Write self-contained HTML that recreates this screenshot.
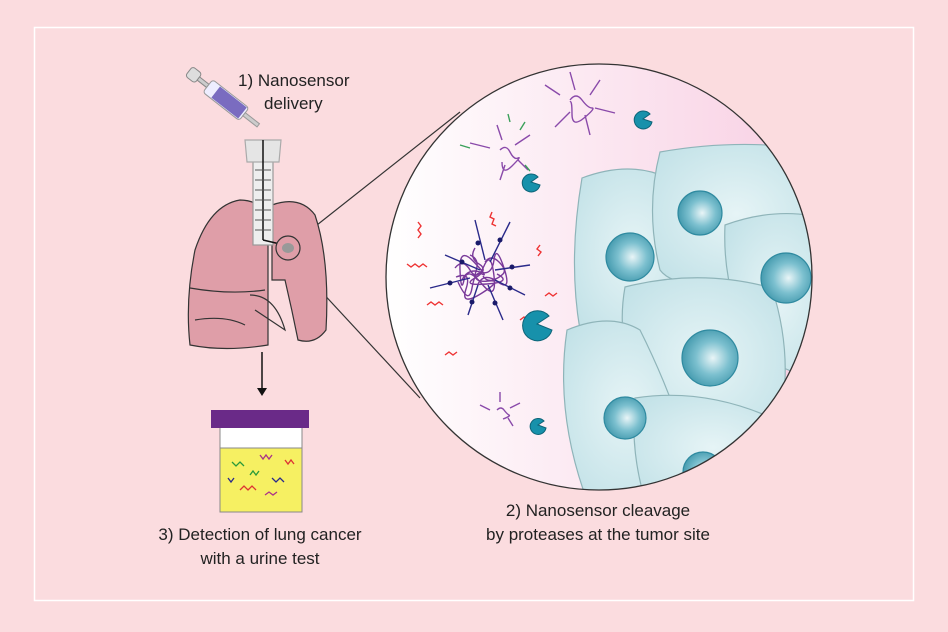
<!DOCTYPE html>
<html><head><meta charset="utf-8"><style>
html,body{margin:0;padding:0;background:#fbdcdf;}
svg{display:block}
text{font-family:"Liberation Sans",sans-serif;font-size:17px;fill:#222}
</style></head><body>
<svg width="948" height="632" viewBox="0 0 948 632" xmlns="http://www.w3.org/2000/svg">
<defs>
<linearGradient id="bg" x1="0" x2="1"><stop offset="0" stop-color="#ffffff"/><stop offset="1" stop-color="#f8cfe3"/></linearGradient>
<radialGradient id="nuc" cx="0.55" cy="0.5" r="0.6"><stop offset="0" stop-color="#e9f5f7"/><stop offset="0.5" stop-color="#7cc0cf"/><stop offset="1" stop-color="#3a93a8"/></radialGradient>
<radialGradient id="cell" cx="0.5" cy="0.5" r="0.7"><stop offset="0" stop-color="#e6f4f6"/><stop offset="1" stop-color="#bfe0e6"/></radialGradient>
<clipPath id="cc"><circle cx="599" cy="277" r="213"/></clipPath>
</defs>
<rect x="0" y="0" width="948" height="632" fill="#fbdcdf"/>
<rect x="34.5" y="27.5" width="879" height="573" fill="none" stroke="#fff" stroke-width="1.5"/>

<line x1="298" y1="240" x2="460" y2="112" stroke="#333" stroke-width="1.2"/>
<line x1="294" y1="262" x2="420" y2="398" stroke="#333" stroke-width="1.2"/>

<circle cx="599" cy="277" r="213" fill="url(#bg)"/>
<g clip-path="url(#cc)" stroke="#8fb4b9" stroke-width="1.2">
<path d="M582,178 Q630,160 668,178 Q700,250 690,320 Q640,345 580,330 Q568,260 582,178Z" fill="url(#cell)"/>
<path d="M660,152 Q740,138 815,150 L820,235 Q790,270 730,280 Q675,290 660,270 Q645,210 660,152Z" fill="url(#cell)"/>
<path d="M725,225 Q780,205 830,220 L830,380 Q780,375 752,345 Q722,290 725,225Z" fill="url(#cell)"/>
<path d="M770,390 Q820,360 830,370 L830,470 Q780,450 770,390Z" fill="url(#cell)"/>
<path d="M625,287 Q700,268 772,288 Q795,360 778,428 Q720,455 660,425 Q612,360 625,287Z" fill="url(#cell)"/>
<path d="M567,330 Q610,312 640,330 Q670,390 690,455 Q660,500 585,495 Q555,410 567,330Z" fill="url(#cell)"/>
<path d="M635,398 Q700,388 765,415 Q800,470 790,500 L645,500 Q630,450 635,398Z" fill="url(#cell)"/>
<g stroke="#2f8aa0">
<circle cx="630" cy="257" r="24" fill="url(#nuc)"/>
<circle cx="700" cy="213" r="22" fill="url(#nuc)"/>
<circle cx="786" cy="278" r="25" fill="url(#nuc)"/>
<circle cx="710" cy="358" r="28" fill="url(#nuc)"/>
<circle cx="625" cy="418" r="21" fill="url(#nuc)"/>
<circle cx="703" cy="472" r="20" fill="url(#nuc)"/>
</g>
</g>
<g fill="none" stroke-width="1.4">
<g stroke="#7a3a9a">
<path d="M455,268 q8,-10 15,2 t14,-4 t10,10 t-12,8 t-18,-4 t-4,-10 t14,-8 t8,12 t-10,14 t-14,-6"/>
<path d="M470,255 q10,4 6,16 t12,10 t-6,12 t-16,-4 t-10,-12"/>
<path d="M462,280 q6,-12 18,-8 t14,-12 t10,8 t-6,14 t-20,2"/>
<path d="M475,248 q-6,10 4,16 t-4,14 t12,6 t10,-10"/>
<path d="M485,262 q6,-8 14,0 t4,12 t-10,6 t-10,-4"/>
</g>
<g stroke="#2a2a8a">
<path d="M480,270 l-35,-15 M485,260 l-10,-40 M490,262 l20,-40 M495,270 l35,-5 M495,280 l30,15 M488,285 l15,35 M478,285 l-10,30 M470,278 l-40,10"/>
</g>
<g fill="#1a1a6a" stroke="none">
<circle cx="462" cy="262" r="2.5"/><circle cx="478" cy="243" r="2.5"/><circle cx="500" cy="240" r="2.5"/><circle cx="512" cy="267" r="2.5"/><circle cx="510" cy="288" r="2.5"/><circle cx="495" cy="303" r="2.5"/><circle cx="472" cy="302" r="2.5"/><circle cx="450" cy="283" r="2.5"/>
</g>
<g stroke="#ee3333">
<path d="M407,264 l4,3 4,-3 4,3 4,-3 4,3 M427,305 l4,-3 4,3 4,-3 4,3 M418,222 l3,4 -3,4 3,4 -3,4 M492,212 l-2,5 4,2 -2,5 4,2 M520,320 l4,-3 4,3 4,-3 M540,245 l-3,4 4,3 -3,4 M445,355 l4,-3 4,3 4,-3 M545,296 l4,-3 4,3 4,-3"/>
</g>
<g stroke="#8a4aaa">
<path d="M570,100 q6,-8 12,0 t10,8 t-8,10 t-12,-4 t-2,-12 M560,95 l-15,-10 M575,90 l-5,-18 M590,95 l10,-15 M595,108 l20,5 M585,115 l5,20 M570,112 l-15,15"/>
<path d="M500,150 q6,-6 10,2 t8,6 t-6,8 t-10,-4 M490,148 l-20,-5 M502,140 l-5,-15 M515,145 l15,-10 M518,160 l10,10 M505,165 l-5,15"/>
<path d="M497,410 q4,-4 7,0 t5,5 t-6,4 M490,410 l-10,-5 M500,402 l0,-10 M510,408 l10,-5 M508,418 l5,8"/>
</g>
<g stroke="#3aa05a"><path d="M470,148 l-10,-3 M520,130 l5,-8 M525,165 l5,6 M510,122 l-2,-8"/></g>
</g>
<g fill="#1791ab" stroke="#0d6478" stroke-width="1">
<path d="M552,330 a15,15 0 1 1 -3,-14 l-12,8 z"/>
<path d="M540,185 a9,9 0 1 1 -2,-8 l-7,5 z"/>
<path d="M652,122 a9,9 0 1 1 -2,-8 l-7,5 z"/>
<path d="M546,428 a8,8 0 1 1 -2,-7 l-6,4 z"/>
</g>
<circle cx="599" cy="277" r="213" fill="none" stroke="#333" stroke-width="1.3"/>

<g transform="translate(222,97) rotate(38)">
<rect x="-42" y="-6" width="12" height="12" rx="3" fill="#ddd" stroke="#888"/>
<rect x="-30" y="-2" width="12" height="4" fill="#ccc" stroke="#888"/>
<rect x="-18" y="-8" width="46" height="16" rx="3" fill="#eef" stroke="#999"/>
<rect x="-8" y="-7" width="34" height="14" fill="#7a6cc0"/>
<rect x="28" y="-2" width="18" height="4" fill="#ccc" stroke="#999"/>
</g>

<g stroke="#333" stroke-width="1.2">
<path d="M240,200 Q210,205 195,250 Q185,300 190,345 Q225,352 268,345 L268,215 Q258,200 240,200Z" fill="#df9ea8"/>
<path d="M272,205 Q300,195 315,215 Q330,260 326,330 Q315,345 298,340 Q292,310 285,280 L272,280 Z" fill="#df9ea8"/>
<path d="M190,288 Q230,295 265,290 M195,320 Q225,315 245,325 M250,295 Q275,295 285,330 Q270,320 255,310" fill="none"/>
<rect x="253" y="150" width="20" height="95" fill="#eee" stroke="#999"/>
<path d="M245,140 L281,140 L279,162 L247,162Z" fill="#e5e5e5" stroke="#aaa"/>
<line x1="263" y1="140" x2="263" y2="240" stroke="#111" stroke-width="1.5"/>
<path d="M263,240 L280,244" stroke="#111" stroke-width="1.5"/>
<circle cx="288" cy="248" r="12" fill="#df9ea8"/>
<ellipse cx="288" cy="248" rx="6" ry="5" fill="#999" stroke="none"/>
</g>
<g stroke="#555" stroke-width="1">
<line x1="255" y1="170" x2="271" y2="170"/><line x1="255" y1="180" x2="271" y2="180"/><line x1="255" y1="190" x2="271" y2="190"/><line x1="255" y1="200" x2="271" y2="200"/><line x1="255" y1="210" x2="271" y2="210"/><line x1="255" y1="220" x2="271" y2="220"/><line x1="255" y1="230" x2="271" y2="230"/>
</g>

<line x1="262" y1="352" x2="262" y2="390" stroke="#111" stroke-width="1.5"/>
<path d="M257,388 L262,396 L267,388Z" fill="#111"/>

<rect x="220" y="426" width="82" height="86" fill="#f6f062" stroke="#888"/>
<rect x="220" y="426" width="82" height="22" fill="#fff" stroke="#888"/>
<rect x="211" y="410" width="98" height="18" fill="#6a2a88"/>
<g fill="none" stroke-width="1.3">
<path d="M232,462 l4,4 4,-4 4,4" stroke="#2a9a3a"/><path d="M260,455 l3,4 3,-4 3,4 3,-4" stroke="#aa3388"/>
<path d="M240,490 l4,-4 4,4 4,-4 4,4" stroke="#dd3333"/><path d="M272,478 l4,4 4,-4 4,4" stroke="#2a2a8a"/>
<path d="M285,460 l3,4 3,-4 3,4" stroke="#dd3333"/><path d="M250,475 l3,-4 3,4 3,-4" stroke="#2a9a3a"/>
<path d="M265,495 l4,-3 4,3 4,-3" stroke="#aa3388"/><path d="M228,478 l3,4 3,-4" stroke="#2a2a8a"/>
</g>

<text x="238" y="86">1) Nanosensor</text>
<text x="264" y="109">delivery</text>
<text x="598" y="516" text-anchor="middle">2) Nanosensor cleavage</text>
<text x="598" y="540" text-anchor="middle">by proteases at the tumor site</text>
<text x="260" y="540" text-anchor="middle">3) Detection of lung cancer</text>
<text x="260" y="564" text-anchor="middle">with a urine test</text>
</svg>
</body></html>
